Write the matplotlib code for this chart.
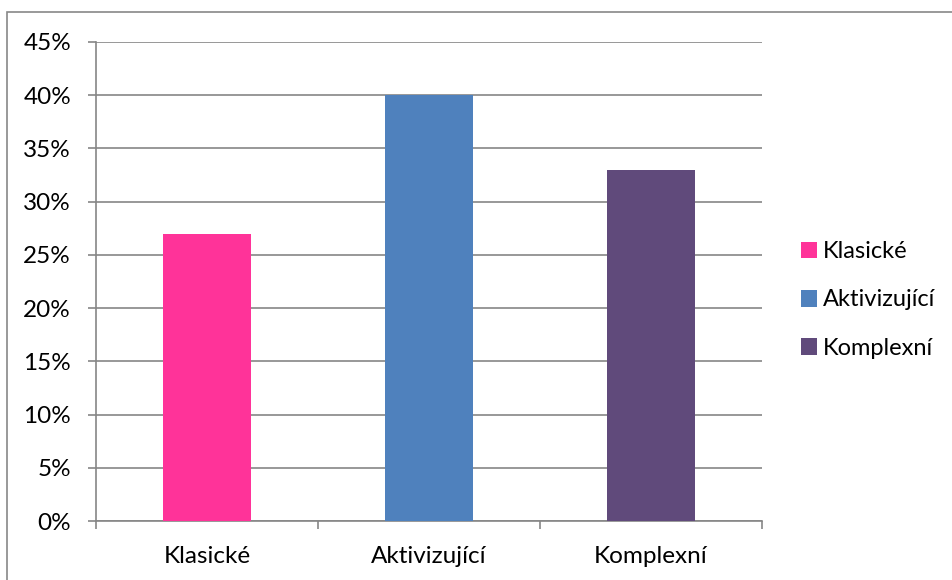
import matplotlib
matplotlib.use("Agg")
import matplotlib.pyplot as plt
from matplotlib.patches import Rectangle, Patch
from matplotlib.ticker import MultipleLocator, FuncFormatter

categories = ["Klasické", "Aktivizující", "Komplexní"]
values = [27, 40, 33]
colors = ["#FF3399", "#4F81BD", "#604A7B"]

plt.rcParams["font.family"] = ["Lato", "DejaVu Sans"]
W, H = 953, 580
FS = 17.5
fig = plt.figure(figsize=(W / 100, H / 100), dpi=100)
fig.patch.set_facecolor("white")

# outer chart frame (only the top and left edges fall inside the image)
fig.add_artist(Rectangle((7 / W, -0.1), 1.2, (H - 12) / H + 0.1,
                         transform=fig.transFigure, fill=False,
                         edgecolor="#888888", linewidth=1.2))

ax = fig.add_axes([96 / W, (H - 521) / H, (762 - 96) / W, (521 - 42) / H])
x = range(len(categories))
ax.bar(x, values, width=0.4, color=colors, zorder=3)

ax.set_xlim(-0.5, len(categories) - 0.5)
ax.set_ylim(0, 45)
ax.yaxis.set_major_locator(MultipleLocator(5))
ax.yaxis.set_major_formatter(FuncFormatter(lambda v, p: f"{v:.0f}%"))
ax.set_xticks(list(x))
ax.set_xticklabels(categories)
ax.set_xticks([-0.5, 0.5, 1.5, 2.5], minor=True)

grid_c = "#868686"
ax.grid(axis="y", color=grid_c, linewidth=1.2, zorder=0)
for s in ["top", "right"]:
    ax.spines[s].set_visible(False)
for s in ["left", "bottom"]:
    ax.spines[s].set_color(grid_c)
    ax.spines[s].set_linewidth(1.2)
ax.tick_params(axis="y", length=6, width=1.2, color=grid_c, labelsize=FS, pad=12)
ax.tick_params(axis="x", which="major", length=0, labelsize=FS, pad=18)
ax.tick_params(axis="x", which="minor", length=6, width=1.2, color=grid_c)

handles = [Patch(facecolor=c, label=l) for c, l in zip(colors, categories)]
fig.legend(handles=handles, loc="center left", bbox_to_anchor=(784 / W, 1 - 300 / H),
           frameon=False, fontsize=17, handlelength=0.7, handleheight=0.7,
           handletextpad=0.25, labelspacing=1.15, borderaxespad=0.3)

fig.savefig("out.png", dpi=100)
